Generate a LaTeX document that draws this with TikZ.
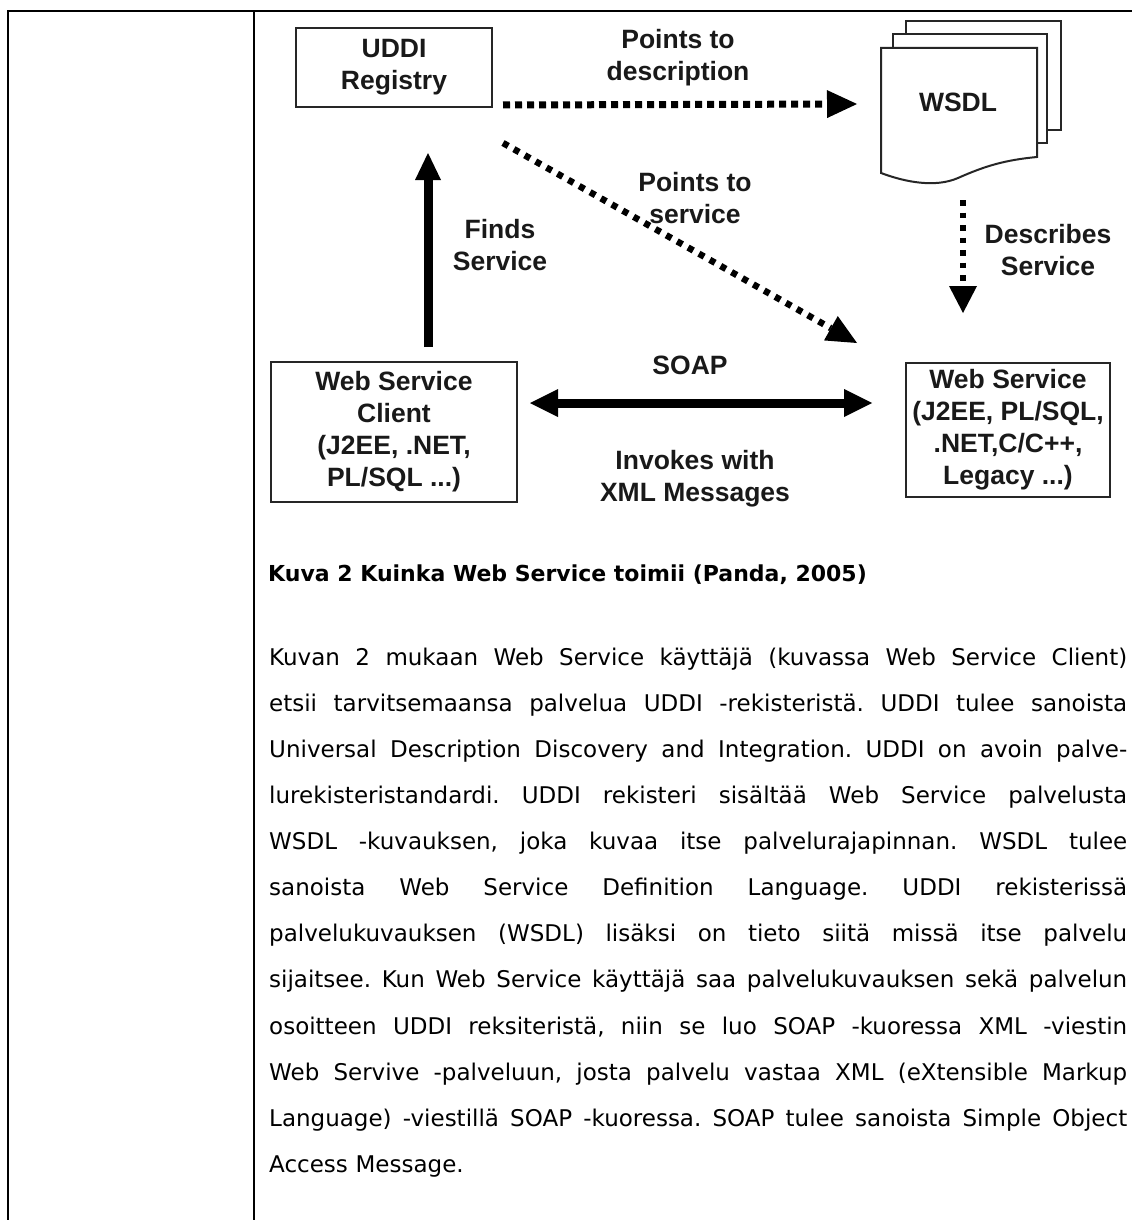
\documentclass[tikz,border=0pt]{standalone}
\usepackage{fontspec}
\setmainfont{DejaVu Sans}
\newfontfamily\diafont{Liberation Sans}
\usetikzlibrary{arrows.meta}
% one justified line of the body paragraph
\newcommand\jline[1]{\makebox[858pt][s]{\spaceskip=0pt\relax\xspaceskip=0pt\relax\frenchspacing #1}\\}

\begin{document}
\begin{tikzpicture}[x=1pt,y=-1pt,
  diatext/.style={font=\diafont\bfseries\fontsize{26.5}{32}\selectfont, text=black!90},
  box/.style={diatext, draw=black!85, line width=2pt, inner sep=0pt, align=center},
  lbl/.style={diatext, inner sep=0pt, align=center},
  page/.style={draw=black!85, line width=2pt, fill=white},
  tablerule/.style={line width=2.5pt, black},
  solidarrow/.style={line width=9pt, black, -{Triangle[length=28pt,width=28pt,line width=0pt]}},
  dotarrow/.style={line width=7pt, black, dash pattern=on 7pt off 5pt,
    -{Triangle[length=30pt,width=28pt,line width=0pt]}},
]
\useasboundingbox (0,0) rectangle (1132,1220);

% table frame
\draw[tablerule] (7,11) -- (1132,11);
\draw[tablerule] (8,11) -- (8,1220);
\draw[tablerule] (254,11) -- (254,1220);

% WSDL document stack
\draw[page] (906,21) rectangle (1061,130);
\draw[page] (893,34) rectangle (1047,143);
\draw[page] (881,48) -- (1037,48) -- (1037,157)
  .. controls (1005,160) and (985,166) .. (958,178)
  .. controls (935,188) and (905,182) .. (881,173) -- cycle;
\node[lbl] (wsdl) at (958,102) {WSDL};

% boxes
\node[box, minimum width=196pt, minimum height=79pt] (uddi) at (394,67.5) {UDDI\\Registry};
\node[box, minimum width=246pt, minimum height=140pt] (client) at (394,432) {Web Service\\Client\\(J2EE, .NET,\\PL/SQL ...)};
\node[box, minimum width=204pt, minimum height=134pt] (service) at (1008,430) {Web Service\\(J2EE, PL/SQL,\\.NET,C/C++,\\Legacy ...)};

% connector end points
\coordinate (descStart) at (503,105);
\coordinate (descEnd) at (857,104);
\coordinate (svcStart) at (503,143);
\coordinate (svcEnd) at (857,343);
\coordinate (wsdlOut) at (963,200);
\coordinate (wsdlIn) at (963,313);
\coordinate (findStart) at (428,347);
\coordinate (findEnd) at (428,153);
\coordinate (soapL) at (530,403);
\coordinate (soapR) at (872,403);

% connectors
\draw[dotarrow] (descStart) -- (descEnd);
\draw[dotarrow, line width=6.5pt, dash pattern=on 6pt off 6.5pt] (svcStart) -- (svcEnd);
\draw[dotarrow, line width=6.5pt, dash pattern=on 5.5pt off 7pt,
  -{Triangle[length=27pt,width=28pt,line width=0pt]}] (wsdlOut) -- (wsdlIn);
\draw[solidarrow, -{Triangle[length=27pt,width=26pt,line width=0pt]}] (findStart) -- (findEnd);
\draw[solidarrow, {Triangle[length=28pt,width=28pt,line width=0pt]}-{Triangle[length=28pt,width=28pt,line width=0pt]}] (soapL) -- (soapR);

% connector labels
\node[lbl] (ldesc) at (678,58) {Points to\\description};
\node[lbl] (lsvc) at (695,198) {Points to\\service};
\node[lbl] (lfind) at (500,245) {Finds\\Service};
\node[lbl] (ldescribes) at (1048,250) {Describes\\Service};
\node[lbl] (lsoap) at (690,365) {SOAP};
\node[lbl] (linvoke) at (695,479) {Invokes with\\XML Messages};

% caption
\node[anchor=base west, inner sep=0pt, font=\bfseries\fontsize{22}{26}\selectfont] (caption)
  at (268,581) {Kuva 2 Kuinka Web Service toimii (Panda, 2005)};

% body paragraph
\node[anchor=north west, inner sep=0pt, text width=858pt, align=left,
  font=\fontsize{23}{46.1}\selectfont] (body) at (269,635) {\rule{0pt}{30pt}%
\jline{Kuvan 2 mukaan Web Service käyttäjä (kuvassa Web Service Client)}
\jline{etsii tarvitsemaansa palvelua UDDI -rekisteristä. UDDI tulee sanoista}
\jline{Universal Description Discovery and Integration. UDDI on avoin palve-}
\jline{lurekisteristandardi. UDDI rekisteri sisältää Web Service palvelusta}
\jline{WSDL -kuvauksen, joka kuvaa itse palvelurajapinnan. WSDL tulee}
\jline{sanoista Web Service Definition Language. UDDI rekisterissä}
\jline{palvelukuvauksen (WSDL) lisäksi on tieto siitä missä itse palvelu}
\jline{sijaitsee. Kun Web Service käyttäjä saa palvelukuvauksen sekä palvelun}
\jline{osoitteen UDDI reksiteristä, niin se luo SOAP -kuoressa XML -viestin}
\jline{Web Servive -palveluun, josta palvelu vastaa XML (eXtensible Markup}
\jline{Language) -viestillä SOAP -kuoressa. SOAP tulee sanoista Simple Object}
Access Message.};
\end{tikzpicture}
\end{document}
